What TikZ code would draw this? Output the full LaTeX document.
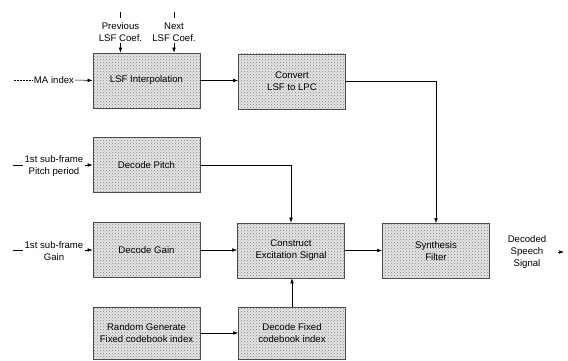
\documentclass[tikz,border=0pt]{standalone}
\usepackage{fontspec}
\setmainfont{Liberation Sans}
\usetikzlibrary{arrows.meta,patterns}
\begin{document}
\begin{tikzpicture}[x=1pt,y=-1pt,
  font=\fontsize{9.6}{12}\selectfont,
  blk/.style={draw=black!70, line width=0.6pt, preaction={fill=black!10},
    pattern=crosshatch dots, pattern color=black!50,
    minimum width=107pt, minimum height=55pt, align=center, inner sep=1pt},
  lbl/.style={align=center, inner sep=1pt},
  arr/.style={-{Latex[length=5pt,width=3.5pt]}, line width=0.5pt},
  ln/.style={line width=0.5pt}]
\useasboundingbox (0,0) rectangle (568,361);
% blocks
\node[blk] (lsf)   at (146.5,80.5) {LSF Interpolation};
\node[blk] (conv)  at (292,81.5)   {Convert\\LSF to LPC};
\node[blk] (pitch) at (146.5,165)  {Decode Pitch};
\node[blk] (gain)  at (146.5,250)  {Decode Gain};
\node[blk] (cons)  at (291,250.5)  {Construct\\Excitation Signal};
\node[blk] (synth) at (436,251)    {Synthesis\\Filter};
\node[blk, minimum height=52pt] (rand) at (146.5,333) {Random Generate\\Fixed codebook index};
\node[blk, minimum height=52pt] (dfix) at (292,333)  {Decode Fixed\\codebook index};
% input labels
\node[lbl] (ma) at (54,80) {MA index};
\coordinate (mas) at (14,80);
\node[lbl] (prev) at (120.5,32) {Previous\\LSF Coef.};
\node[lbl] (next) at (174,32)  {Next\\LSF Coef.};
\coordinate (prevt) at (120.5,12);
\coordinate (nextt) at (174,12);
\node[lbl] (pin) at (54,166.5) {1st sub-frame\\Pitch period};
\node[lbl] (gin) at (54,251.5) {1st sub-frame\\Gain};
\coordinate (pins) at (13,165);
\coordinate (gins) at (13,250);
\node[lbl] (out) at (527,252) {Decoded\\Speech\\Signal};
\coordinate (outa) at (558,252);
\coordinate (outb) at (564,252);
% connectors
\draw[ln, dashed, dash pattern=on 2pt off 1pt] (mas) -- (ma.west);
\draw[arr] (ma.east) -- (lsf.west);
\draw[ln] (prevt) -- ++(0,6);
\draw[ln] (nextt) -- ++(0,6);
\draw[arr] (prev.south) -- (prev.south |- lsf.north);
\draw[arr] (next.south) -- (next.south |- lsf.north);
\draw[arr] (lsf.east) -- (lsf.east -| conv.west);
\draw[arr] (conv.east) -| (synth.north);
\draw[ln] (pins) -- ++(10,0);
\draw[ln] (gins) -- ++(10,0);
\draw[arr] (pin.east |- pitch.west) -- (pitch.west);
\draw[arr] (gin.east |- gain.west) -- (gain.west);
\draw[arr] (pitch.east) -| (cons.north);
\draw[arr] (gain.east) -- (gain.east -| cons.west);
\draw[arr] (rand.east) -- (dfix.west);
\draw[arr] (dfix.north) -- (dfix.north |- cons.south);
\draw[arr] (cons.east) -- (cons.east -| synth.west);
\draw[arr] (outa) -- (outb);
\end{tikzpicture}
\end{document}
